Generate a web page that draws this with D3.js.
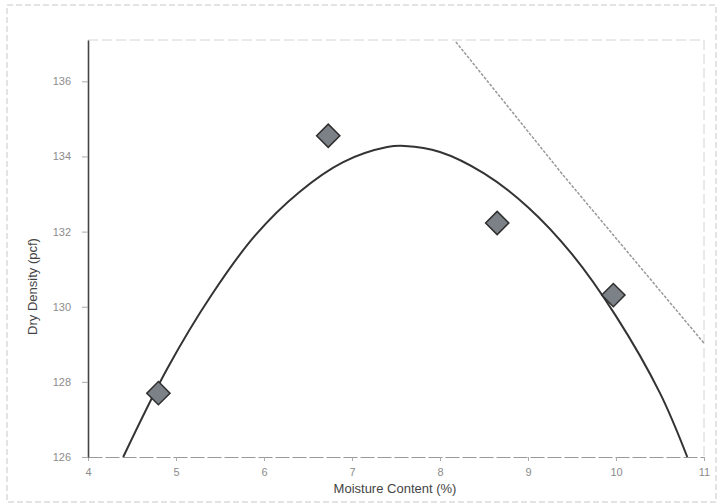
<!DOCTYPE html>
<html>
<head>
<meta charset="utf-8">
<script src="https://cdn.jsdelivr.net/npm/d3@7"></script>
<style>
    html, body { margin: 0; padding: 0; background: #fff; }
    #proctor { width: 720px; height: 504px; }
    .chart text { font-family: "Liberation Sans", Arial, sans-serif; }
</style>
</head>
<body>
<div id="proctor"></div>
<script>
(function () {
    "use strict";

    // test points
    const moisture = [4.80, 6.73, 8.65, 9.97];
    const density = [127.70, 134.55, 132.23, 130.31];

    // fitted compaction curve
    const curveMoisture = [4.40, 4.90, 5.40, 5.90, 6.40, 6.90, 7.40, 7.60, 8.00, 8.50, 9.00, 9.50, 10.00, 10.50, 10.81];
    const curveDensity = [126.00, 128.35, 130.30, 131.90, 133.05, 133.85, 134.25, 134.28, 134.12, 133.55, 132.65, 131.40, 129.75, 127.70, 126.00];

    // zero air voids line
    const zavMoisture = [8.18, 9.40, 11.00];
    const zavDensity = [137.05, 133.50, 129.03];

    const xTicks = [4, 5, 6, 7, 8, 9, 10, 11];
    const yTicks = [126, 128, 130, 132, 134, 136];

    function zip(xs, ys) {
        return xs.map((x, i) => ({ x: x, y: ys[i] }));
    }

    function drawChart(selection) {
        const width = 720;
        const height = 504;
        const margin = { top: 40, right: 16, bottom: 47, left: 88 };

        const svg = selection.append("svg")
            .attr("class", "chart")
            .attr("width", width)
            .attr("height", height);

        // faint scanned frame
        svg.append("rect")
            .attr("x", 7)
            .attr("y", 5)
            .attr("width", 709)
            .attr("height", 497)
            .attr("fill", "none")
            .attr("stroke", "#c8c8c8")
            .attr("stroke-dasharray", "6,3");

        const canvas = svg.append("g")
            .attr("transform", `translate(${margin.left},${margin.top})`);

        const canvasWidth = width - margin.left - margin.right;
        const canvasHeight = height - margin.top - margin.bottom;

        const xScale = d3.scaleLinear()
            .domain([4, 11])
            .range([0, canvasWidth]);

        const yScale = d3.scaleLinear()
            .domain([126, 137.1])
            .range([canvasHeight, 0]);

        // top and right edges of the plot area
        canvas.append("path")
            .attr("d", `M0,0H${canvasWidth}V${canvasHeight}`)
            .attr("fill", "none")
            .attr("stroke", "#d4d4d4")
            .attr("stroke-dasharray", "10,4");

        const xAxis = d3.axisBottom(xScale)
            .tickValues(xTicks)
            .tickFormat(d3.format("d"))
            .tickSizeInner(4)
            .tickSizeOuter(0);

        const xAxisGroup = canvas.append("g")
            .attr("transform", `translate(0,${canvasHeight})`)
            .call(xAxis);

        xAxisGroup.select(".domain")
            .attr("stroke", "#999")
            .attr("stroke-width", 1.2)
            .attr("stroke-dasharray", "14,3");
        xAxisGroup.selectAll(".tick line").attr("stroke", "#aaa");
        xAxisGroup.selectAll(".tick text")
            .attr("fill", "#8c8c8c")
            .attr("dy", "1.1em")
            .style("font-size", "11px");

        xAxisGroup.append("text")
            .attr("x", xScale(7.5) - 1)
            .attr("y", 36)
            .attr("text-anchor", "middle")
            .attr("fill", "#444")
            .style("font-size", "13px")
            .text("Moisture Content (%)");

        const yAxis = d3.axisLeft(yScale)
            .tickValues(yTicks)
            .tickFormat(d3.format("d"))
            .tickSizeInner(6)
            .tickSizeOuter(0);

        const yAxisGroup = canvas.append("g")
            .call(yAxis);

        yAxisGroup.select(".domain")
            .attr("stroke", "#444")
            .attr("stroke-width", 1.6);
        yAxisGroup.selectAll(".tick line").attr("stroke", "#aaa");
        yAxisGroup.selectAll(".tick text")
            .attr("fill", "#8c8c8c")
            .attr("dx", "-8")
            .style("font-size", "11px");

        const textX = -51;
        const textY = canvasHeight / 2 + 38;

        yAxisGroup.append("text")
            .attr("x", textX)
            .attr("y", textY)
            .attr("text-anchor", "middle")
            .attr("transform", `rotate(-90,${textX},${textY})`)
            .attr("fill", "#444")
            .style("font-size", "13px")
            .text("Dry Density (pcf)");

        const line = d3.line()
            .x(d => xScale(d.x))
            .y(d => yScale(d.y));

        canvas.append("path")
            .attr("d", line(zip(zavMoisture, zavDensity)))
            .attr("fill", "none")
            .attr("stroke", "#999")
            .attr("stroke-width", 1.5)
            .attr("stroke-dasharray", "3,1.5");

        canvas.append("path")
            .attr("d", line.curve(d3.curveCatmullRom)(zip(curveMoisture, curveDensity)))
            .attr("fill", "none")
            .attr("stroke", "#333")
            .attr("stroke-width", 2);

        const diamond = d3.symbol()
            .type(d3.symbolSquare)
            .size(270);

        canvas.append("g")
            .selectAll("path")
            .data(zip(moisture, density))
            .enter()
            .append("path")
            .attr("d", diamond)
            .attr("transform", d => `translate(${xScale(d.x)},${yScale(d.y)}) rotate(45)`)
            .attr("fill", "#7c8188")
            .attr("stroke", "#2e2e2e")
            .attr("stroke-width", 1.5);
    }

    d3.select("#proctor")
        .call(drawChart);
}());
</script>
</body>
</html>
